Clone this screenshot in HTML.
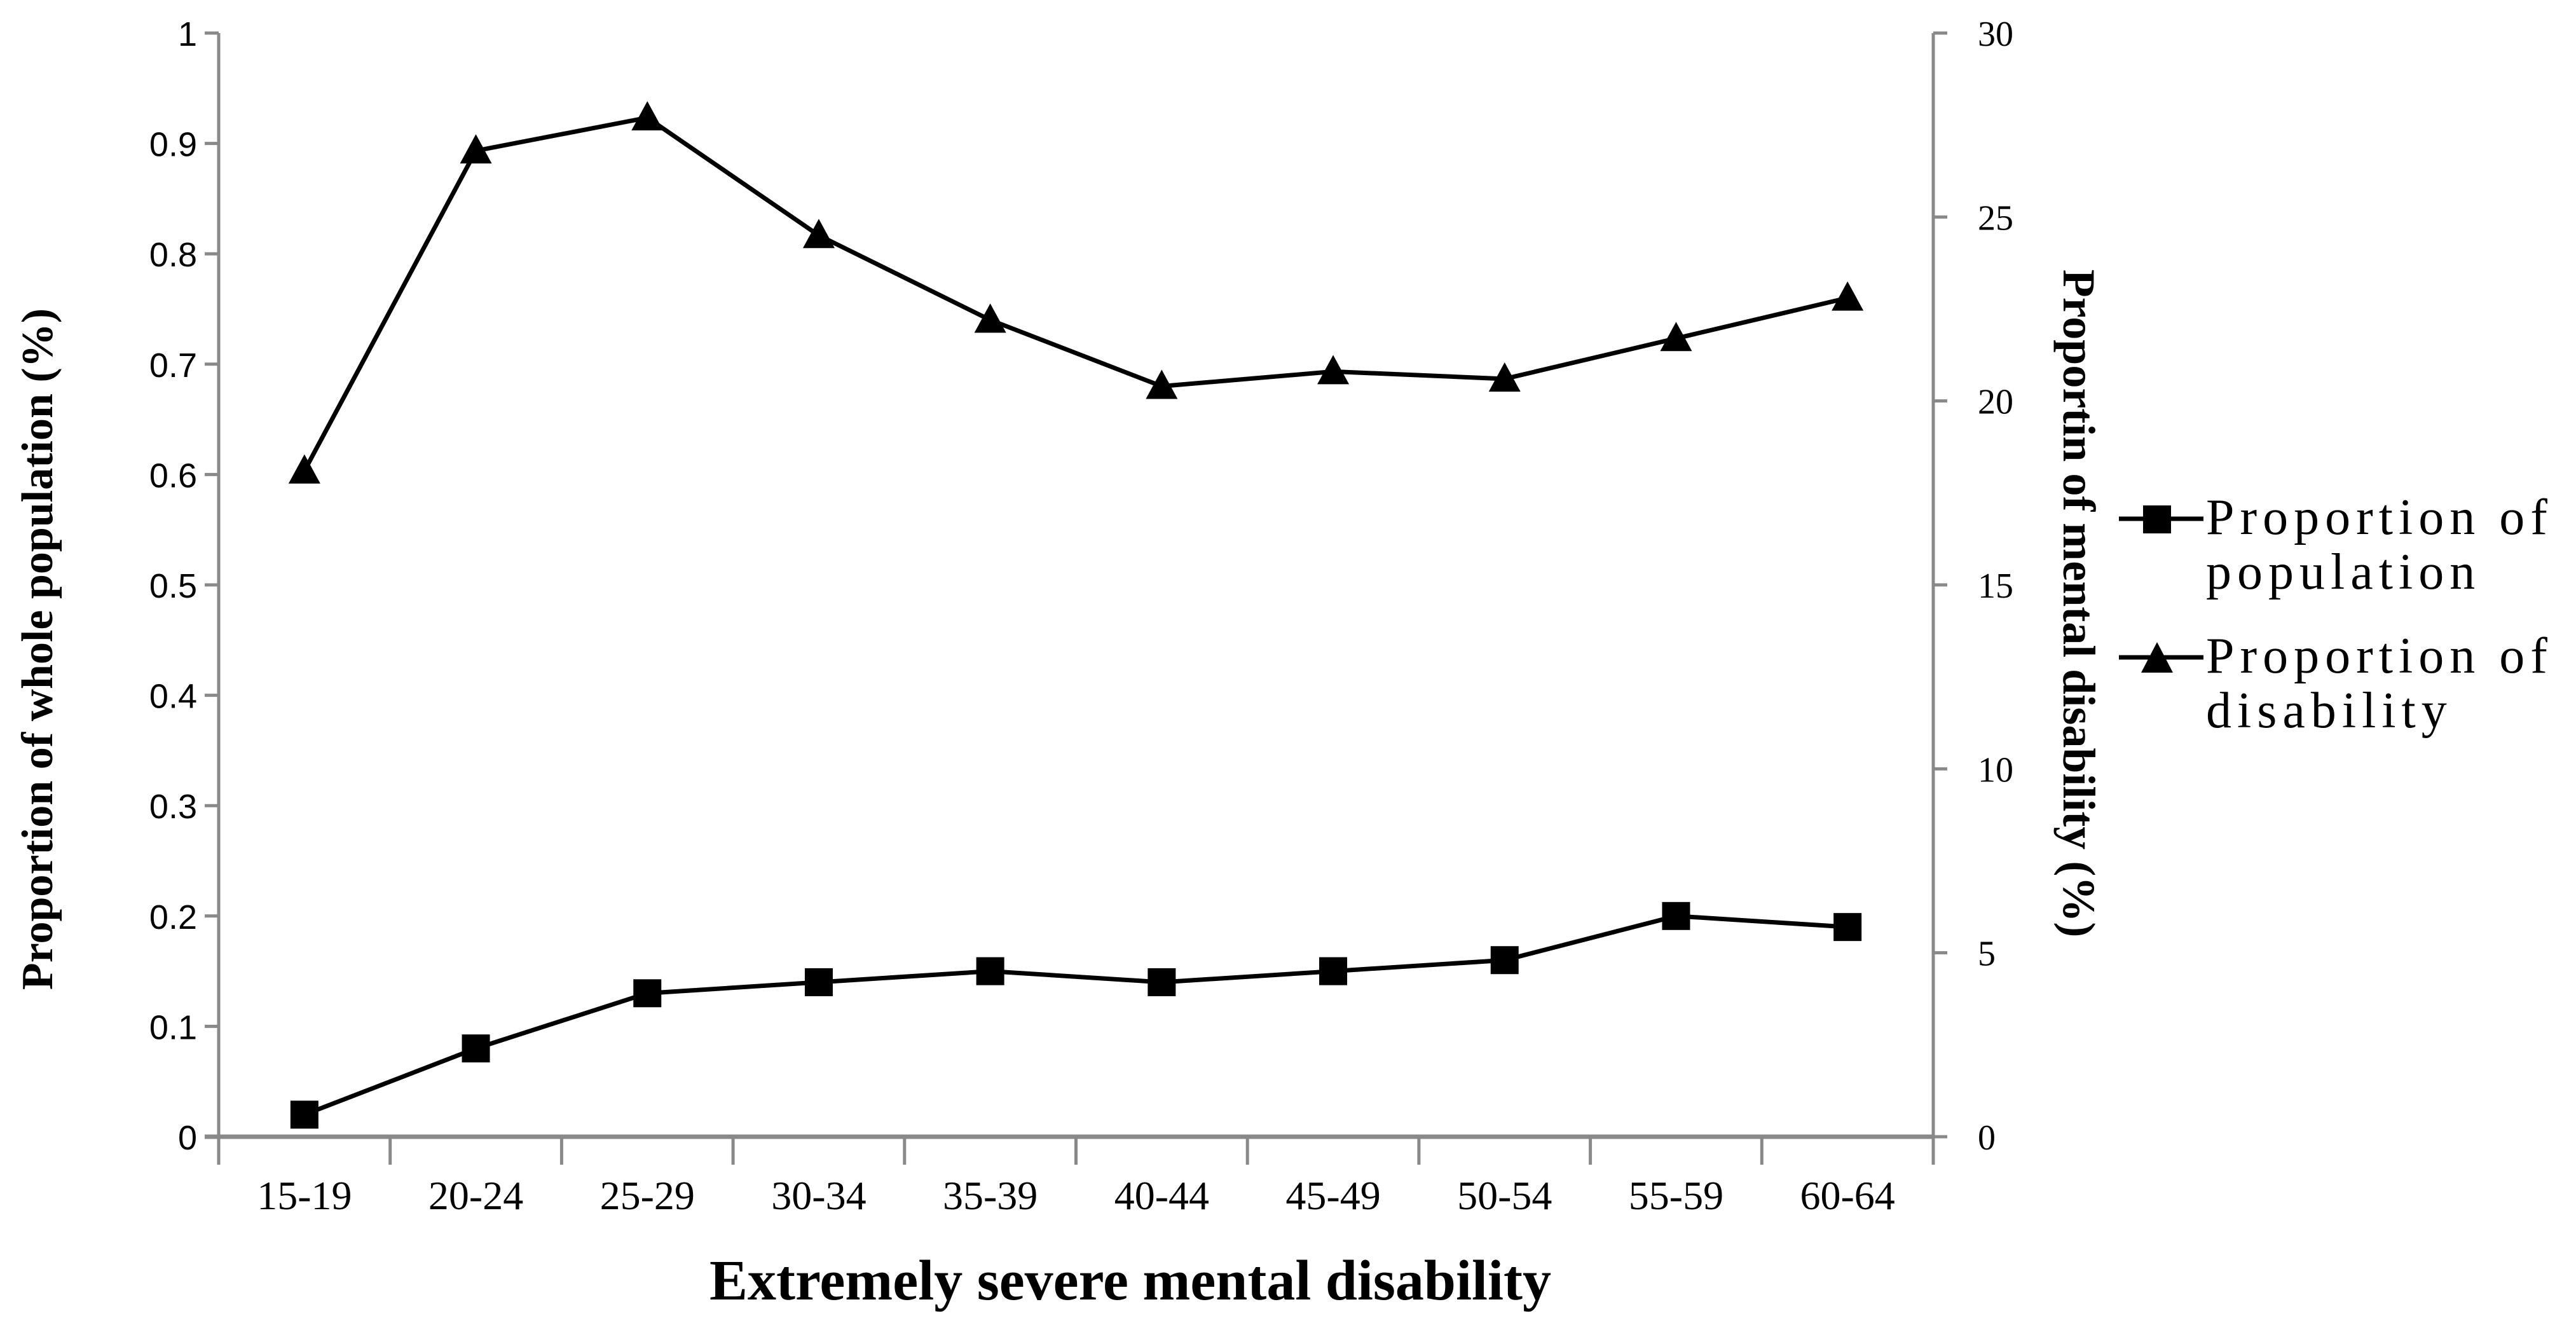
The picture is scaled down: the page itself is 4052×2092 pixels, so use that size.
<!DOCTYPE html>
<html><head><meta charset="utf-8"><style>
html,body{margin:0;padding:0;background:#fff;}
svg{display:block;}
</style></head><body>
<svg id="chart" width="4052" height="2092" viewBox="0 0 4052 2092" xmlns="http://www.w3.org/2000/svg">
<g id="axes"></g>
<g id="series"></g>
<text x="1778" y="2044" text-anchor="middle" font-family="Liberation Serif, serif" font-weight="bold" font-size="90">Extremely severe mental disability</text>
<text transform="translate(82,1021) rotate(-90)" text-anchor="middle" font-family="Liberation Serif, serif" font-weight="bold" font-size="70">Proportion  of whole population  (%)</text>
<text transform="translate(3246,949) rotate(90)" text-anchor="middle" font-family="Liberation Serif, serif" font-weight="bold" font-size="72">Proportin  of mental disability  (%)</text>
<g font-family="Liberation Serif, serif" font-size="80" letter-spacing="9">
  <g>
    <line x1="3333" y1="816" x2="3466" y2="816" stroke="#000" stroke-width="7"/>
    <rect x="3371" y="795" width="44" height="44" fill="#000"/>
    <text x="3470" y="840">Proportion of</text>
    <text x="3470" y="926">population</text>
  </g>
  <g>
    <line x1="3333" y1="1034" x2="3466" y2="1034" stroke="#000" stroke-width="7"/>
    <polygon points="3368,1058 3418,1058 3393,1010" fill="#000"/>
    <text x="3470" y="1058">Proportion of</text>
    <text x="3470" y="1144">disability</text>
  </g>
</g>
</svg>
<script>
const categories = ["15-19","20-24","25-29","30-34","35-39","40-44","45-49","50-54","55-59","60-64"];
const populationValues = [0.02,0.08,0.13,0.14,0.15,0.14,0.15,0.16,0.20,0.19];
const disabilityValues = [18.1,26.8,27.7,24.5,22.2,20.4,20.8,20.6,21.7,22.8];
const leftTicks = [0,0.1,0.2,0.3,0.4,0.5,0.6,0.7,0.8,0.9,1];
const leftTickLabels = ["0","0.1","0.2","0.3","0.4","0.5","0.6","0.7","0.8","0.9","1"];
const rightTicks = [0,5,10,15,20,25,30];

const NS="http://www.w3.org/2000/svg";
const X0=344, X1=3041, Y0=1788, Y1=52;
const band=(X1-X0)/categories.length;
const xPos=i=>X0+band*(i+0.5);
const yLeft=v=>Y0-(v/1)*(Y0-Y1);
const yRight=v=>Y0-(v/30)*(Y0-Y1);
const axes=document.getElementById('axes');
const series=document.getElementById('series');
function mk(tag,attrs,parent){const e=document.createElementNS(NS,tag);for(const k in attrs)e.setAttribute(k,attrs[k]);parent.appendChild(e);return e;}
const AX="#898989";

let e=mk('line',{x1:X0,y1:Y1,x2:X0,y2:Y0,stroke:AX,'stroke-width':5},axes);


e=mk('line',{x1:X1,y1:Y1,x2:X1,y2:Y0,stroke:AX,'stroke-width':5},axes);


e=mk('line',{x1:X0-22,y1:Y0,x2:X1,y2:Y0,stroke:AX,'stroke-width':7},axes);



leftTicks.forEach((v,i)=>{
  const y=yLeft(v);
  let t=mk('line',{x1:X0-22,y1:y,x2:X0,y2:y,stroke:AX,'stroke-width':5},axes);
  
  
  let l=mk('text',{x:X0-34,y:y+20,'text-anchor':'end','font-family':'Liberation Sans, sans-serif','font-size':54,fill:'#000'},axes);
  l.textContent=leftTickLabels[i];
  
  
});
rightTicks.forEach(v=>{
  const y=yRight(v);
  let t=mk('line',{x1:X1,y1:y,x2:X1+22,y2:y,stroke:AX,'stroke-width':5},axes);
  
  
  let l=mk('text',{x:X1+70,y:y+20,'text-anchor':'start','font-family':'Liberation Serif, serif','font-size':56,fill:'#000'},axes);
  l.textContent=String(v);
  
  
});
for(let i=0;i<=categories.length;i++){
  const x=X0+band*i;
  let t=mk('line',{x1:x,y1:Y0,x2:x,y2:Y0+44,stroke:AX,'stroke-width':5},axes);
  
  
}
categories.forEach((c,i)=>{
  let l=mk('text',{x:xPos(i),y:1902,'text-anchor':'middle','font-family':'Liberation Serif, serif','font-size':64,fill:'#000'},axes);
  l.textContent=c;
  
  
});

let pp=mk('polyline',{points:populationValues.map((v,i)=>xPos(i)+','+yLeft(v)).join(' '),fill:'none',stroke:'#000','stroke-width':7},series);


populationValues.forEach((v,i)=>{
  let r=mk('rect',{x:xPos(i)-22,y:yLeft(v)-22,width:44,height:44,fill:'#000'},series);
  
  
});
let dp=mk('polyline',{points:disabilityValues.map((v,i)=>xPos(i)+','+yRight(v)).join(' '),fill:'none',stroke:'#000','stroke-width':7},series);


disabilityValues.forEach((v,i)=>{
  const x=xPos(i),y=yRight(v);
  let p=mk('polygon',{points:`${x-25},${y+20} ${x+25},${y+20} ${x},${y-26}`,fill:'#000'},series);
  
  
});
</script>
</body></html>
